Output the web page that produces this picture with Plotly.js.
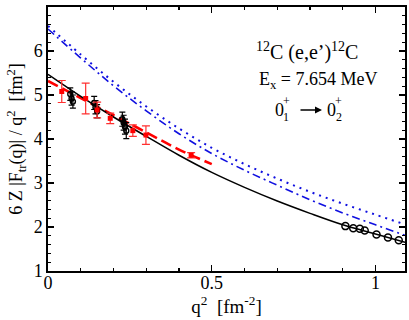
<!DOCTYPE html>
<html>
<head>
<meta charset="utf-8">
<script src="https://cdn.plot.ly/plotly-3.0.1.min.js"></script>
<style>
  body { margin: 0; background: #fff; }
  #plot { width: 409px; height: 320px; }
</style>
</head>
<body>
<div id="plot"></div>
<script>
// theory curves
var qCurve = [0, 0.1, 0.2, 0.3, 0.4, 0.5, 0.6, 0.7, 0.8, 0.9, 1.0, 1.09];
var blackCurve = [5.47, 4.97, 4.50, 4.06, 3.63, 3.24, 2.90, 2.59, 2.31, 2.05, 1.84, 1.65];
var blueDotted = [6.57, 5.92, 5.30, 4.74, 4.24, 3.80, 3.43, 3.10, 2.80, 2.53, 2.28, 2.06];
var blueDashDot = [6.50, 5.84, 5.21, 4.64, 4.12, 3.67, 3.29, 2.95, 2.62, 2.32, 2.05, 1.81];

var qRed = [0, 0.1, 0.2, 0.3, 0.4, 0.5];
var redCurve = [5.32, 4.93, 4.54, 4.15, 3.76, 3.43];

// red data (squares)
var qRedData = [0.042, 0.115, 0.150, 0.190, 0.259, 0.299, 0.437];
var yRedData = [5.08, 4.92, 4.66, 4.47, 4.19, 4.09, 3.63];
var eRedData = [0.25, 0.35, 0.18, 0.12, 0.13, 0.21, 0.06];

// black data, low q
var qLow = [0.068, 0.072, 0.076, 0.141, 0.145, 0.150, 0.227, 0.231, 0.235, 0.239];
var yLow = [5.02, 4.92, 4.85, 4.82, 4.72, 4.63, 4.45, 4.37, 4.28, 4.19];
var eLow = [0.14, 0.15, 0.15, 0.15, 0.15, 0.15, 0.16, 0.17, 0.17, 0.18];

// black data, high q
var qHigh = [0.908, 0.932, 0.952, 0.967, 1.003, 1.038, 1.071];
var yHigh = [2.02, 1.97, 1.96, 1.92, 1.83, 1.76, 1.70];

var serif = 'Liberation Serif';

// helper for paper-positioned labels (anchors forced, 'auto' shifts them)
function label(x, y, text, size) {
  return {xref: 'paper', yref: 'paper', x: x, y: y, xanchor: 'center', yanchor: 'middle',
          showarrow: false, text: text, font: {family: serif, size: size}};
}

var data = [
  {x: qCurve, y: blueDotted, mode: 'lines', line: {color: '#1010e0', width: 2, dash: '2px,5px', shape: 'spline'}},
  {x: qCurve, y: blueDashDot, mode: 'lines', line: {color: '#1010e0', width: 1.6, dash: '8px,4px,2px,4px', shape: 'spline'}},
  {x: qRed, y: redCurve, mode: 'lines', line: {color: '#ff0000', width: 2.6, dash: '11px,5px', shape: 'spline'}},
  {x: qCurve, y: blackCurve, mode: 'lines', line: {color: '#000', width: 1.5, shape: 'spline'}},
  {x: qLow, y: yLow, mode: 'markers',
   marker: {symbol: 'circle-open', size: 5, color: '#000', line: {width: 1.4}},
   error_y: {type: 'data', array: eLow, color: '#000', thickness: 1.2, width: 3}},
  {x: qRedData, y: yRedData, mode: 'markers',
   marker: {symbol: 'square', size: 5, color: '#ff0000'},
   error_y: {type: 'data', array: eRedData, color: '#ff3030', thickness: 1.2, width: 4}},
  {x: qHigh, y: yHigh, mode: 'markers',
   marker: {symbol: 'circle-open', size: 7, color: '#000', line: {width: 1.5}},
   error_y: {type: 'data', value: 0.03, color: '#000', thickness: 1.2, width: 3}}
];

var layout = {
  width: 409,
  height: 320,
  margin: {l: 48, r: 4, t: 7, b: 49},
  showlegend: false,
  paper_bgcolor: '#fff',
  plot_bgcolor: '#fff',
  font: {family: serif, size: 18, color: '#000'},
  xaxis: {
    range: [0, 1.09],
    tickvals: [0, 0.5, 1],
    ticktext: ['0', '0.5', '1'],
    ticks: 'inside', ticklen: 6, tickwidth: 1.3, tickcolor: '#000',
    minor: {dtick: 0.1, ticks: 'inside', ticklen: 3, tickwidth: 1.2, tickcolor: '#000'},
    showline: true, linecolor: '#000', linewidth: 1.6, mirror: 'ticks',
    showgrid: false, zeroline: false,
    tickfont: {family: serif, size: 18},
    ticklabelstandoff: -5,
    title: {text: 'q<sup>2</sup>  [fm<sup>-2</sup>]', font: {family: serif, size: 19}, standoff: 2}
  },
  yaxis: {
    range: [1, 7],
    dtick: 1,
    ticks: 'inside', ticklen: 6, tickwidth: 1.3, tickcolor: '#000',
    minor: {dtick: 0.2, ticks: 'inside', ticklen: 3, tickwidth: 1.2, tickcolor: '#000'},
    showline: true, linecolor: '#000', linewidth: 1.6, mirror: 'ticks',
    showgrid: false, zeroline: false,
    tickfont: {family: serif, size: 18},
    title: {text: '6 Z |F<sub>tr</sub>(q)| / q<sup>2</sup>  [fm<sup>2</sup>]', font: {family: serif, size: 18}, standoff: 6}
  },
  annotations: [
    label(0.7255, 0.833, '<sup>12</sup>C (e,e\u2019)<sup>12</sup>C', 20),
    label(0.755, 0.720, 'E<sub>x</sub> = 7.654 MeV', 18),
    label(0.6485, 0.6098, '0', 18),
    label(0.668, 0.585, '1', 12),
    label(0.668, 0.645, '+', 12),
    label(0.7955, 0.6098, '0', 18),
    label(0.815, 0.585, '2', 12),
    label(0.815, 0.645, '+', 12),
    {xref: 'paper', yref: 'paper', x: 0.7675, y: 0.6098, text: '', showarrow: true,
     ax: -23, ay: 0, arrowhead: 2, arrowsize: 1, arrowwidth: 1.4, arrowcolor: '#000', standoff: 0}
  ]
};

Plotly.newPlot('plot', data, layout, {displayModeBar: false, staticPlot: true});
</script>
</body>
</html>
